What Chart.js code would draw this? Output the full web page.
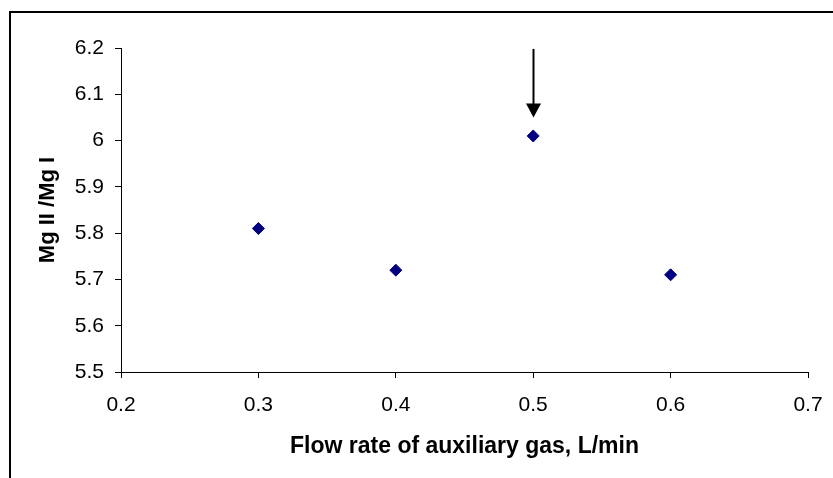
<!DOCTYPE html>
<html>
<head>
<meta charset="utf-8">
<script src="https://cdn.jsdelivr.net/npm/chart.js@4"></script>
<style>
    html, body { margin: 0; padding: 0; background: #fff; }
    #wrap { width: 833px; height: 478px; position: relative; }
</style>
</head>
<body>
<div id="wrap"><canvas id="chart" width="833" height="478"></canvas></div>
<script>
// Data
const flowRates = [0.3, 0.4, 0.5, 0.6];
const ratios = [5.81, 5.72, 6.01, 5.71];
const xTicks = [0.2, 0.3, 0.4, 0.5, 0.6, 0.7];
const yTicks = [5.5, 5.6, 5.7, 5.8, 5.9, 6.0, 6.1, 6.2];

// Arrow marker over the 0.5 point (data units)
const arrowX = 0.5;
const arrowFrom = 6.198;
const arrowTo = 6.05;

const font = 'Arial, "Liberation Sans", sans-serif';

// Top and left frame lines of the figure
const framePlugin = {
    id: 'frame',
    beforeDraw(chart) {
        const ctx = chart.ctx;
        ctx.save();
        ctx.strokeStyle = '#000';
        ctx.lineWidth = 2;
        ctx.beginPath();
        ctx.moveTo(833, 12);
        ctx.lineTo(10, 12);
        ctx.lineTo(10, 478);
        ctx.stroke();
        ctx.restore();
    }
};

// Down arrow pointing at the maximum
const arrowPlugin = {
    id: 'arrow',
    afterDatasetsDraw(chart) {
        const { ctx, scales: { x, y } } = chart;
        const px = Math.round(x.getPixelForValue(arrowX)) + 0.5;
        const y1 = y.getPixelForValue(arrowFrom);
        const y2 = y.getPixelForValue(arrowTo);
        ctx.save();
        ctx.strokeStyle = '#000';
        ctx.fillStyle = '#000';
        ctx.lineWidth = 2;
        ctx.beginPath();
        ctx.moveTo(px, y1);
        ctx.lineTo(px, y2 - 12);
        ctx.stroke();
        ctx.beginPath();
        ctx.moveTo(px - 7.5, y2 - 14);
        ctx.lineTo(px + 7.5, y2 - 14);
        ctx.lineTo(px, y2);
        ctx.closePath();
        ctx.fill();
        ctx.restore();
    }
};

new Chart(document.getElementById('chart'), {
    type: 'scatter',
    data: {
        datasets: [{
            data: flowRates.map((v, i) => ({ x: v, y: ratios[i] })),
            pointStyle: 'rectRot',
            pointRadius: 6,
            pointBackgroundColor: '#000080',
            pointBorderColor: '#000080',
            pointBorderWidth: 1
        }]
    },
    options: {
        responsive: false,
        animation: false,
        layout: { padding: { left: 0, top: 48, right: 25, bottom: 0 } },
        plugins: {
            legend: { display: false },
            tooltip: { enabled: false }
        },
        scales: {
            x: {
                type: 'linear',
                min: 0.2,
                max: 0.7,
                afterBuildTicks: scale => { scale.ticks = xTicks.map(v => ({ value: v })); },
                afterFit: scale => {
                    scale.height = 106;
                    scale.paddingLeft = 0;
                    scale.paddingRight = 0;
                },
                border: { color: '#000', width: 1 },
                grid: { display: true, drawOnChartArea: false, color: '#000', tickLength: 6 },
                ticks: {
                    color: '#000',
                    padding: 15,
                    font: { family: font, size: 21 },
                    callback: v => String(Math.round(v * 10) / 10)
                },
                title: {
                    display: true,
                    text: 'Flow rate of auxiliary gas, L/min',
                    color: '#000',
                    font: { family: font, size: 23, weight: 'bold' },
                    padding: { top: 0, bottom: 18 }
                }
            },
            y: {
                type: 'linear',
                min: 5.5,
                max: 6.2,
                afterBuildTicks: scale => { scale.ticks = yTicks.map(v => ({ value: v })); },
                afterFit: scale => { scale.width = 121; },
                border: { color: '#000', width: 1 },
                grid: { display: true, drawOnChartArea: false, color: '#000', tickLength: 6 },
                ticks: {
                    color: '#000',
                    padding: 11,
                    font: { family: font, size: 21 },
                    callback: v => String(Math.round(v * 10) / 10)
                },
                title: {
                    display: true,
                    text: 'Mg II /Mg I',
                    color: '#000',
                    font: { family: font, size: 22, weight: 'bold' },
                    padding: { top: 35, bottom: 0 }
                }
            }
        }
    },
    plugins: [framePlugin, arrowPlugin]
});
</script>
</body>
</html>
